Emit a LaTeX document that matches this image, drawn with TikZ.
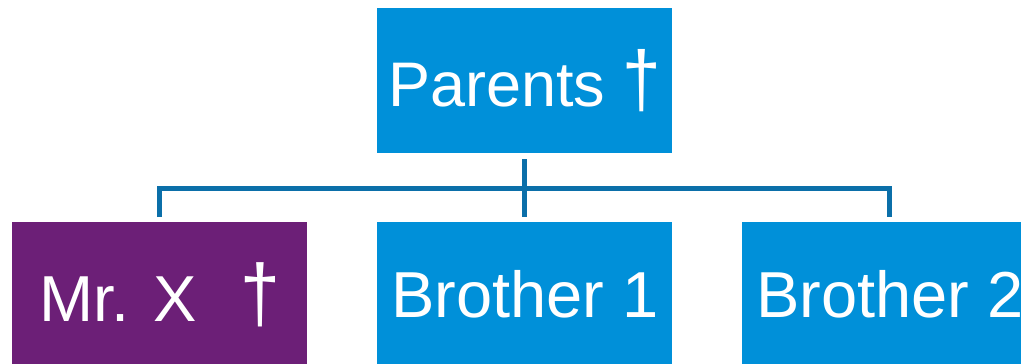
\documentclass[tikz,border=0pt]{standalone}
\usepackage{fontspec}
\usetikzlibrary{calc}
\setmainfont{Liberation Sans}
\definecolor{boxblue}{HTML}{0090D9}
\definecolor{boxpurple}{HTML}{6C1F77}
\definecolor{linkblue}{HTML}{0B6FA9}
\newcommand\tallcross{\scalebox{1.1}[1.25]{†}}
\begin{document}
\begin{tikzpicture}[x=1pt,y=-1pt,
  box/.style={minimum width=295pt, minimum height=145pt, inner sep=0pt,
    anchor=north west, text=white, font=\fontsize{65}{70}\selectfont},
  conn/.style={draw=linkblue, line width=5pt}]
\useasboundingbox (0,0) rectangle (1021,364);
\clip (0,0) rectangle (1021,364);
\node[box, fill=boxblue, font=\fontsize{63}{70}\selectfont] (parents) at (377,8) {Parents \tallcross};
\node[box, fill=boxpurple] (mrx) at (12,222) {Mr. X\hspace{0.66em}\tallcross};
\node[box, fill=boxblue] (b1) at (377,222) {Brother 1};
\node[box, fill=boxblue] (b2) at (742,222) {Brother 2};
\coordinate (hub) at ($(parents.south)+(0,35)$);
\draw[conn] ([yshift=-6pt]parents.south) -- ([yshift=5pt]b1.north);
\draw[conn] ([yshift=5pt]mrx.north) |- (hub) -| ([yshift=5pt]b2.north);
\end{tikzpicture}
\end{document}
